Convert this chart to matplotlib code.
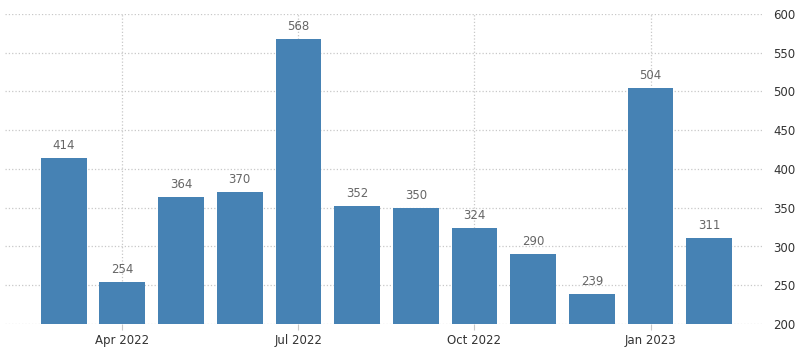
import matplotlib.pyplot as plt
import numpy as np

MONTHS = ["Mar 2022", "Apr 2022", "May 2022", "Jun 2022", "Jul 2022", "Aug 2022",
          "Sep 2022", "Oct 2022", "Nov 2022", "Dec 2022", "Jan 2023", "Feb 2023"]
VALUES = [414, 254, 364, 370, 568, 352, 350, 324, 290, 239, 504, 311]
TICK_MONTHS = ["Apr 2022", "Jul 2022", "Oct 2022", "Jan 2023"]

BAR_COLOR = "#4682b4"
GRID_COLOR = "#c8c8c8"


def main() -> None:
    fig = plt.figure(figsize=(8, 3.52), dpi=100)
    ax = fig.add_axes([5 / 800, 1 - 324 / 352, 757 / 800, 310 / 352])

    x = np.arange(len(MONTHS))
    ax.bar(x, VALUES, width=0.78, color=BAR_COLOR, zorder=2)

    for xi, v in zip(x, VALUES):
        ax.text(xi, v + 8, str(v), ha="center", va="bottom",
                fontsize=8.5, color="#666666")

    ax.set_xlim(-1.0, 11.9)
    ax.set_ylim(200, 600)

    tick_pos = [MONTHS.index(m) for m in TICK_MONTHS]
    ax.set_xticks(tick_pos)
    ax.set_xticklabels(TICK_MONTHS, fontsize=8.5, color="#333333")
    ax.set_yticks(np.arange(200, 601, 50))
    ax.yaxis.tick_right()
    ax.tick_params(axis="y", length=0, pad=8, labelsize=8.5, labelcolor="#333333")
    ax.tick_params(axis="x", length=4, color=GRID_COLOR, pad=3)

    ax.grid(True, color=GRID_COLOR, linestyle=":", linewidth=0.9, zorder=0)
    for spine in ax.spines.values():
        spine.set_visible(False)

    fig.savefig("out.png", dpi=100)
    plt.close(fig)


if __name__ == "__main__":
    main()
